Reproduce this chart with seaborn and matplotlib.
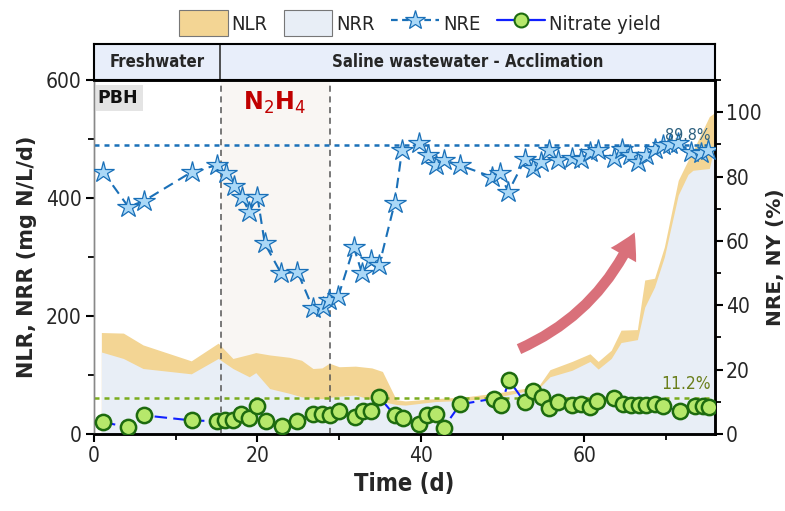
import matplotlib
matplotlib.use("Agg")
import matplotlib.pyplot as plt
import seaborn as sns
import numpy as np
from matplotlib.patches import Patch, FancyArrowPatch
from matplotlib.lines import Line2D
from matplotlib.ticker import MultipleLocator
from matplotlib.font_manager import FontProperties

# ---------------- data ----------------
area_day = [0.9, 3.6, 6.0, 11.9, 15.2, 17.0, 19.0, 19.8, 21.5, 23.9, 25.4, 26.8, 27.9, 28.8,
            30.0, 32.0, 34.0, 35.3, 37.0, 38.1, 41.8, 45.5, 49.5, 54.4, 55.8, 58.5, 60.7,
            61.7, 63.3, 64.5, 66.5, 67.4, 68.6, 69.8, 71.5, 72.7, 73.3, 75.3, 76.0]
nlr = [172, 171, 151, 124, 154, 128, 135, 138, 134, 130, 125, 111, 112, 120,
       114, 115, 112, 106, 58, 56, 60, 63, 70, 81, 109, 123, 136,
       123, 142, 176, 177, 261, 264, 317, 430, 464, 480, 538, 545]
nrr = [139, 128, 111, 102, 128, 111, 97, 104, 77, 69, 63, 61, 60, 62,
       64, 66, 58, 55, 50, 49, 55, 57, 63, 77, 97, 108, 123,
       110, 128, 155, 160, 215, 249, 300, 405, 440, 447, 450, 490]

nre_day = [1.1, 4.2, 6.1, 12.0, 15.0, 16.1, 17.1, 18.1, 19.0, 20.0, 20.9, 22.9, 24.9, 26.8,
           28.0, 28.7, 29.9, 31.8, 32.8, 33.9, 34.9, 36.8, 37.7, 39.8, 40.9, 41.8, 42.8,
           44.8, 48.7, 49.7, 50.7, 52.8, 53.7, 54.7, 55.7, 56.8, 58.5, 59.6, 60.7, 61.7,
           63.7, 64.6, 65.6, 66.6, 67.6, 68.6, 69.6, 70.5, 71.5, 73.1, 74.3, 75.1]
nre = [81.5, 70.6, 72.4, 81.5, 83.5, 81.0, 77.0, 73.7, 69.0, 73.7, 59.2, 49.9, 50.4, 39.0,
       39.5, 41.5, 42.8, 58.0, 49.9, 54.0, 52.4, 71.8, 88.2, 90.3, 86.7, 83.5, 85.1,
       83.5, 79.9, 81.0, 75.2, 85.6, 82.8, 84.6, 88.2, 85.1, 85.9, 85.3, 87.7, 88.2,
       85.9, 88.7, 86.7, 84.6, 86.7, 88.7, 89.8, 90.0, 90.3, 87.7, 87.2, 88.2]

ny_day = [1.1, 4.2, 6.1, 12.0, 15.0, 16.0, 17.0, 18.0, 19.0, 20.0, 21.0, 23.0, 24.9, 26.8,
          27.9, 28.9, 30.0, 32.0, 32.9, 33.9, 34.9, 36.8, 37.8, 39.8, 40.8, 41.8, 42.8,
          44.8, 48.9, 49.8, 50.8, 52.7, 53.7, 54.8, 55.7, 56.8, 58.5, 59.6, 60.7, 61.6,
          63.7, 64.7, 65.7, 66.7, 67.6, 68.6, 69.6, 71.7, 73.5, 74.5, 75.3]
ny = [3.7, 2.1, 5.8, 4.2, 4.0, 4.4, 4.2, 6.3, 5.1, 8.6, 4.0, 2.4, 4.0, 6.3,
      6.3, 5.8, 7.3, 5.3, 7.3, 7.3, 11.5, 5.8, 5.1, 3.2, 5.8, 6.3, 2.0,
      9.2, 11.0, 8.9, 16.7, 9.9, 13.3, 11.5, 8.2, 9.9, 8.9, 9.2, 8.4, 10.2,
      11.3, 9.4, 8.9, 8.9, 8.9, 9.4, 8.6, 7.1, 8.6, 8.6, 8.4]

nre_mean = 89.8
ny_mean = 11.2
phase_split = 15.4
n2h4_start, n2h4_end = 15.5, 28.9
phases = ["Freshwater", "Saline wastewater - Acclimation"]
legend_labels = ["NLR", "NRR", "NRE", "Nitrate yield"]

# ---------------- style ----------------
sns.set_theme(style="white")
plt.rcParams["font.family"] = ["DejaVu Sans"]


def cond(size, weight="normal"):
    return FontProperties(family="DejaVu Sans", stretch="condensed", size=size, weight=weight)


C_NLR = "#f3d594"
C_NRR = "#e8eef6"
C_NRE = "#1a70b8"
C_STAR = "#aad8f7"
C_NY_LINE = "#1020ff"
C_CIRC = "#b6e86b"
C_CIRC_E = "#1d6b0f"

fig = plt.figure(figsize=(7.85, 5.11), dpi=100)
L, B, W, H = 94 / 785, 1 - 434 / 511, (715 - 94) / 785, (434 - 80) / 511
ax = fig.add_axes([L, B, W, H])
ax2 = ax.twinx()

ax.set_xlim(0, 76)
ax.set_ylim(0, 600)
ax2.set_ylim(0, 110)

# shaded N2H4 period
ax.axvspan(n2h4_start, n2h4_end, color="#f9f6f3", zorder=0, lw=0)

# areas
ax.fill_between(area_day, 0, nlr, color=C_NLR, lw=0, zorder=1)
ax.fill_between(area_day, 0, nrr, color=C_NRR, lw=0, zorder=2)

for xv in (n2h4_start, n2h4_end):
    ax.axvline(xv, color="#555555", ls=(0, (4, 3)), lw=1.1, zorder=3)

# mean lines
ax2.axhline(nre_mean, color=C_NRE, ls=(0, (2, 2)), lw=1.8, zorder=1)
ax2.axhline(ny_mean, color="#7aac1e", ls=(0, (2, 2)), lw=1.8, zorder=1)

# series via seaborn
sns.lineplot(x=nre_day, y=nre, ax=ax2, sort=False, estimator=None,
             color=C_NRE, lw=1.5, dashes=False, linestyle=(0, (5, 3)),
             marker="*", markersize=16, markerfacecolor=C_STAR,
             markeredgecolor=C_NRE, markeredgewidth=0.9, zorder=3)
sns.lineplot(x=ny_day, y=ny, ax=ax2, sort=False, estimator=None,
             color=C_NY_LINE, lw=1.5, dashes=False, linestyle=(0, (6, 3)),
             marker="o", markersize=11, markerfacecolor=C_CIRC,
             markeredgecolor=C_CIRC_E, markeredgewidth=1.8, zorder=4)

# annotations
ax.text(22.1, 561, r"N$_2$H$_4$", color="#c00000", fontsize=17, fontweight="bold",
        ha="center", va="center", zorder=5)
ax.text(0.006, 0.975, "PBH", transform=ax.transAxes, fontsize=12.5, fontweight="bold",
        ha="left", va="top", color="#111111",
        bbox=dict(boxstyle="square,pad=0.25", facecolor="#e4e4e4", edgecolor="none"),
        zorder=6)
ax2.text(72.7, 92.8, "89.8%", color="#2b5f7e", fontproperties=cond(11.5),
         ha="center", va="center", zorder=6)
ax2.text(72.5, 15.4, "11.2%", color="#6b7f1c", fontproperties=cond(12.5),
         ha="center", va="center", zorder=6)

arrow = FancyArrowPatch((51.7, 142), (66.3, 346), connectionstyle="arc3,rad=0.2",
                        arrowstyle="simple,tail_width=0.55,head_width=1.5,head_length=1.3",
                        mutation_scale=14, color="#d9707a", lw=0, zorder=5)
ax.add_patch(arrow)

# axes styling
ax.set_xticks([0, 20, 40, 60])
ax.xaxis.set_minor_locator(MultipleLocator(10))
ax.set_yticks([0, 200, 400, 600])
ax.yaxis.set_minor_locator(MultipleLocator(100))
ax2.set_yticks([0, 20, 40, 60, 80, 100])
ax2.yaxis.set_minor_locator(MultipleLocator(10))
for a in (ax, ax2):
    a.tick_params(which="major", length=6, width=1.5, color="black", direction="out",
                  labelsize=15, pad=3)
    a.tick_params(which="minor", length=4, width=1.3, color="black", direction="out")
ax.tick_params(axis="x", which="both", bottom=True, top=False)
ax.tick_params(axis="y", which="both", left=True, right=False)
ax2.tick_params(axis="y", which="both", right=True, left=False, pad=2)
for lab in ax.get_xticklabels() + ax.get_yticklabels() + ax2.get_yticklabels():
    lab.set_fontproperties(cond(15))

ax.set_xlabel("Time (d)", fontproperties=cond(17, "bold"), labelpad=4)
ax.set_ylabel("NLR, NRR (mg N/L/d)", fontsize=15, fontweight="bold", labelpad=6)
ax2.set_ylabel("NRE, NY (%)", fontsize=14.5, fontweight="bold", labelpad=3, rotation=90)

for a in (ax, ax2):
    for s in a.spines.values():
        s.set_color("black")
        s.set_linewidth(1.8)
    a.spines["left"].set_color("#888888")
    a.spines["left"].set_linewidth(1.0)
    a.grid(False)
ax.set_facecolor("white")

# header band
hax = fig.add_axes([L, 1 - 80 / 511, W, 36 / 511])
hax.set_xlim(0, 76)
hax.set_ylim(0, 1)
hax.set_facecolor("#e8eefa")
hax.set_xticks([])
hax.set_yticks([])
for s in hax.spines.values():
    s.set_color("black")
    s.set_linewidth(1.5)
hax.axvline(phase_split, color="#333333", lw=1.2)
hax.text(phase_split / 2, 0.5, phases[0], ha="center", va="center",
         fontproperties=cond(12, "bold"))
hax.text((phase_split + 76) / 2, 0.5, phases[1], ha="center", va="center",
         fontproperties=cond(12, "bold"))

# legend
handles = [
    Patch(facecolor=C_NLR, edgecolor="#777777", lw=0.8),
    Patch(facecolor=C_NRR, edgecolor="#777777", lw=0.8),
    Line2D([], [], color=C_NRE, ls=(0, (3, 2)), lw=1.6, marker="*", markersize=15,
           markerfacecolor=C_STAR, markeredgecolor=C_NRE, markeredgewidth=0.9),
    Line2D([], [], color=C_NY_LINE, ls="-", lw=1.6, marker="o", markersize=10,
           markerfacecolor=C_CIRC, markeredgecolor=C_CIRC_E, markeredgewidth=1.5),
]
leg = fig.legend(handles, legend_labels, loc="center", bbox_to_anchor=(0.535, 0.955),
                 ncol=4, frameon=False, handlelength=2.4, handleheight=1.6,
                 handletextpad=0.2, columnspacing=0.8, prop=cond(14.5))

fig.savefig("out.png", dpi=100)
